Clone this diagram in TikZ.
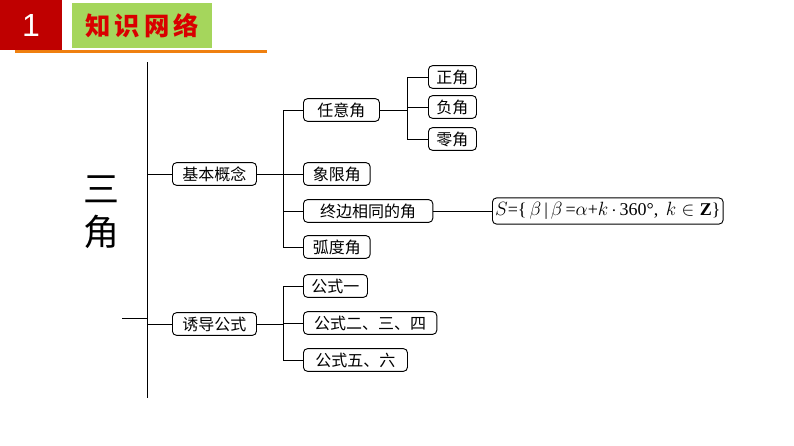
\documentclass[tikz,border=0pt]{standalone}
\usepackage{fontspec}
\setmainfont{Liberation Serif}
\setsansfont{Liberation Sans}
\newfontfamily\cjk{Noto Sans CJK SC}
\begin{document}
\begin{tikzpicture}[x=0.75pt,y=-0.75pt,
  bx/.style={draw,rounded corners=3pt,line width=0.7pt,inner xsep=4pt,inner ysep=2pt,minimum height=17pt,anchor=west,font=\cjk\fontsize{12}{13}\selectfont},
  ln/.style={line width=0.7pt}]
\useasboundingbox (0,0) rectangle (794,446);
\fill[red!75!black] (0,0) rectangle (62,50);
\node[white,font=\sffamily\fontsize{24}{26}\selectfont] (one) at (31,25) {1};
\fill[green!40!yellow!60!gray!80] (72,3) rectangle (212,48);
\node[red!85!black,font=\cjk\bfseries\fontsize{19}{20}\selectfont] (title) at (142,26) {知\,识\,网\,络};
\fill[orange!75!brown] (15,50) rectangle (267,53);
\node[font=\cjk\fontsize{27}{32}\selectfont,align=center] (san) at (101,212) {三\\角};
\coordinate (t) at (147,62); \coordinate (b) at (147,398);
\draw[ln] (t) -- (b);
\coordinate (s1) at (122,318); \coordinate (s2) at (147,318);
\draw[ln] (s1) -- (s2);
\node[bx,minimum width=63pt] (jb) at (172,174) {基本概念};
\node[bx,minimum width=63pt] (yd) at (172,324) {诱导公式};
\node[bx,minimum width=57pt] (ry) at (303,110) {任意角};
\node[bx,minimum width=50pt] (xx) at (303,174) {象限角};
\node[bx,minimum width=97pt] (zb) at (303,211) {终边相同的角};
\node[bx,minimum width=50pt] (hd) at (303,247) {弧度角};
\node[bx,minimum width=36pt] (zj) at (428,77) {正角};
\node[bx,minimum width=36pt] (fj) at (428,107) {负角};
\node[bx,minimum width=36pt] (lj) at (428,139) {零角};
\node[draw,rounded corners=3pt,line width=0.7pt,inner xsep=2pt,minimum height=17pt,minimum width=160pt,anchor=west,font=\fontsize{13.5}{14}\selectfont] (fm) at (492,211) {$S$=\{\,$\beta$\,|\,$\beta$\,=$\alpha$+$k$\,$\cdot$\,360°, \,$k\in\mathbf{Z}$\}};
\node[bx,minimum width=48pt] (g1) at (303,286) {公式一};
\node[bx,minimum width=100pt] (g2) at (303,323) {公式二、三、四};
\node[bx,minimum width=78pt] (g3) at (303,360) {公式五、六};
\draw[ln] (147,174) -- (jb.west);
\draw[ln] (147,324) -- (yd.west);
\draw[ln] (jb.east) -- (283,174);
\draw[ln] (yd.east) -- (283,324);
\draw[ln] (ry.west) -| (283,247) -- (hd.west);
\draw[ln] (283,174) -- (xx.west);
\draw[ln] (283,211) -- (zb.west);
\draw[ln] (g1.west) -| (283,360) -- (g3.west);
\draw[ln] (283,323) -- (g2.west);
\draw[ln] (ry.east) -- (407,110);
\draw[ln] (zj.west) -| (407,139) -- (lj.west);
\draw[ln] (407,107) -- (fj.west);
\draw[ln] (zb.east) -- (fm.west);
\end{tikzpicture}
\end{document}
